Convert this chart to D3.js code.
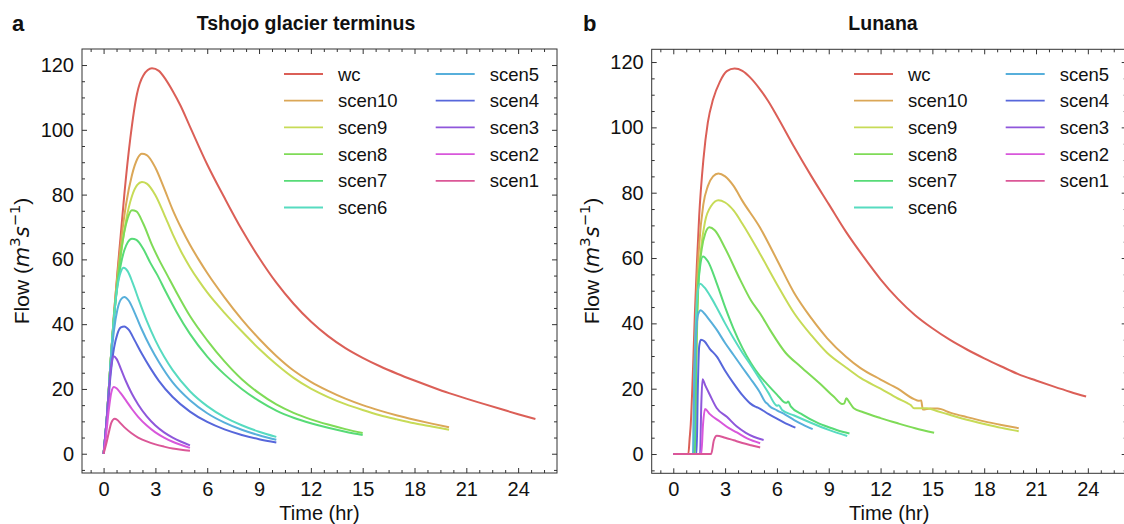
<!DOCTYPE html>
<html>
<head>
<meta charset="utf-8">
<script src="https://cdn.jsdelivr.net/npm/d3@7"></script>
<style>
  body { margin: 0; background: #fff; }
  svg text { font-family: "Liberation Sans", Arial, Helvetica, sans-serif; fill: #111; }
</style>
</head>
<body>
<svg id="chart" width="1124" height="524"></svg>
<script>
// series order, legend order and colours (seaborn hls-like palette)
const seriesNames = ['wc', 'scen10', 'scen9', 'scen8', 'scen7', 'scen6', 'scen5', 'scen4', 'scen3', 'scen2', 'scen1'];
const seriesColors = ['#db5f57', '#dba757', '#c7db57', '#7fdb57', '#57db77', '#57dbc0', '#57afdb', '#5767db', '#8f57db', '#d857db', '#db5797'];

const xTicks = [0, 3, 6, 9, 12, 15, 18, 21, 24];
const yTicks = [0, 20, 40, 60, 80, 100, 120];

// panel a: Tshojo glacier terminus, [time hr, flow m3/s]
const tsWc = [[0,0],[0.2,12],[0.4,28],[0.6,43],[0.8,56],[1.0,68],[1.2,80],[1.55,97.5],[1.93,111],[2.3,116.8],[2.8,119],[3.2,118.2],[3.6,115.5],[4.0,112],[4.45,107.5],[5,101],[6,89.3],[7,79],[8,69.2],[9,60.5],[10,52.8],[11,46.3],[12,40.8],[13,36.3],[14,32.6],[15,29.6],[16,27],[17,24.7],[18,22.6],[19,20.6],[20,18.7],[21,17],[22,15.4],[23,13.8],[24,12.2],[25,10.7]];
const tsScen10 = [[0,0],[0.2,12],[0.4,28],[0.6,43],[0.8,55],[1.0,65],[1.3,77],[1.64,86],[1.95,91],[2.22,92.6],[2.5,92.2],[3,88.3],[3.5,82],[4,75.3],[4.5,69.6],[5,64.5],[5.5,60],[6,55.8],[7,48.3],[8,41.5],[9,35.5],[10,30.2],[11,25.7],[12,22.2],[13,19.4],[14,17],[15,15],[16,13.3],[17,11.8],[18,10.5],[19,9.3],[20,8.2]];
const tsScen9 = [[0,0],[0.2,12],[0.4,28],[0.6,42],[0.8,53],[1.0,61.5],[1.3,72],[1.64,79.5],[1.95,83],[2.22,83.9],[2.5,83.4],[3,79.8],[3.5,74],[4,67.8],[4.5,62.3],[5,57.6],[5.5,53.5],[6,49.8],[7,43.5],[8,37.8],[9,32.4],[10,27.6],[11,23.4],[12,20.1],[13,17.5],[14,15.3],[15,13.5],[16,11.9],[17,10.6],[18,9.4],[19,8.4],[20,7.4]];
const tsScen8 = [[0,0],[0.2,12],[0.4,28],[0.6,42],[0.8,53],[1.0,62],[1.2,68.5],[1.4,72.8],[1.64,75.2],[1.9,74.8],[2.3,71],[2.8,64.5],[3.2,60],[3.67,55.3],[4.2,50],[5,42.5],[6,35],[7,28.5],[8,23],[9,18.7],[10,15.2],[11,12.6],[12,10.6],[13,9],[14,7.6],[15,6.4]];
const tsScen7 = [[0,0],[0.2,12],[0.4,28],[0.6,42],[0.8,52],[1.0,58.5],[1.2,62.8],[1.4,65.3],[1.64,66.4],[1.9,66],[2.3,63.2],[2.7,59],[3.1,55.3],[3.6,50],[4.2,44],[5,37],[6,30],[7,24.5],[8,20],[9,16.3],[10,13.3],[11,11.1],[12,9.4],[13,8],[14,6.8],[15,5.8]];
const tsScen6 = [[0,0],[0.2,12],[0.4,28],[0.6,42],[0.8,51.5],[1.0,56.2],[1.16,57.4],[1.4,56.3],[1.7,52.5],[2.03,47.6],[2.5,41],[3,35],[3.5,30],[4,25.8],[5,19.3],[6,14.7],[7,11.3],[8,8.8],[9,6.8],[10,5.2]];
const tsScen5 = [[0,0],[0.2,12],[0.4,27],[0.6,38],[0.8,44.5],[1.0,47.6],[1.2,48.4],[1.45,47.3],[1.8,43.5],[2.2,38.5],[2.7,33],[3.2,28.3],[4,22],[5,16.5],[6,12.5],[7,9.6],[8,7.4],[9,5.7],[10,4.3]];
const tsScen4 = [[0,0],[0.2,11],[0.4,24],[0.6,32.5],[0.8,37],[1.0,39],[1.2,39.3],[1.45,38.3],[1.8,35],[2.2,31],[2.7,26.5],[3.2,22.5],[4,17.5],[5,13],[6,9.8],[7,7.5],[8,5.8],[9,4.5],[10,3.5]];
const tsScen3 = [[0,0],[0.15,9],[0.3,19.5],[0.45,27.5],[0.58,30.1],[0.75,29.3],[1,26.2],[1.3,22.3],[1.64,18.5],[2,15.2],[2.5,11.5],[3,8.7],[3.5,6.6],[4,5],[4.5,3.7],[5,2.6]];
const tsScen2 = [[0,0],[0.15,6],[0.3,13.5],[0.45,19],[0.6,20.6],[0.75,20.2],[1,18.6],[1.3,16.4],[1.64,13.8],[2,11.4],[2.5,8.7],[3,6.6],[3.5,5],[4,3.7],[4.5,2.7],[5,1.8]];
const tsScen1 = [[0,0],[0.15,3],[0.3,6.5],[0.45,9.6],[0.64,10.8],[0.8,10.4],[1,9.3],[1.26,7.9],[1.6,6.4],[2,5],[2.5,3.8],[3,2.9],[3.5,2.2],[4,1.6],[4.5,1.2],[5,0.9]];

// panel b: Lunana
const luWc = [[0,0],[0.87,0],[0.95,5],[1.01,9],[1.1,20],[1.16,28.8],[1.25,43],[1.36,57.5],[1.5,73],[1.74,90],[2.0,101.5],[2.3,108.5],[2.7,114],[3.1,117.2],[3.55,118],[4,117.3],[4.5,115],[5,111.8],[5.5,108],[6,103.5],[7,94],[8,85],[9,76.5],[10,68],[11,60.5],[12,53.5],[13,47.5],[14,42.5],[15,38.5],[16,35],[17,32],[18,29.3],[19,26.8],[20,24.4],[21,22.5],[22,20.7],[23,19],[23.9,17.6]];
const luScen10 = [[0,0],[1.2,0],[1.25,18],[1.3,35],[1.36,50],[1.5,64],[1.74,76.4],[2.0,82],[2.3,85],[2.61,85.9],[3,85],[3.5,82],[4,77.5],[5,69.5],[6,59.5],[7,49.3],[8,41.5],[8.9,35.5],[10,29.8],[10.84,26.3],[12,22.8],[13,20],[13.94,16.8],[14.2,16.3],[14.35,16.4],[14.45,13.6],[14.9,13.9],[15.3,13.9],[16.07,12.6],[17,11.3],[18,10],[19,8.9],[20,7.9]];
const luScen9 = [[0,0],[1.25,0],[1.3,18],[1.36,35],[1.45,52],[1.6,62.5],[1.84,71.2],[2.2,76],[2.61,77.7],[3,77],[3.5,74.5],[4,70.5],[5,61.5],[6,52],[7,43.1],[8,36.3],[8.9,31],[10,26.5],[10.84,23.3],[12,20],[13,17],[13.5,15.7],[13.74,15],[13.94,14],[14.7,14],[15.3,13.1],[16,12],[17,10.5],[18,9.2],[19,8],[20,7]];
const luScen8 = [[0,0],[1.25,0],[1.3,20],[1.36,40],[1.45,52],[1.65,62.9],[1.85,67.5],[2.09,69.4],[2.4,68.5],[3,63],[3.87,53.4],[4.5,47],[5.03,43],[5.6,38],[6.5,31],[7.36,26.8],[8.5,21.5],[9.3,17.5],[9.78,15.3],[9.9,15.5],[10.02,17.1],[10.2,15.8],[10.45,14],[11,12.8],[12,11],[13,9.4],[14,7.9],[15.1,6.5]];
const luScen7 = [[0,0],[1.25,0],[1.3,25],[1.38,45],[1.5,55],[1.72,60.5],[2.0,59],[2.5,52.5],[3,45],[3.48,38.5],[4,32.5],[4.5,27.8],[5,24],[5.42,21.5],[6,18.2],[6.45,15.8],[6.58,15.7],[6.65,16.1],[6.8,14.6],[7.5,12],[8.33,9.6],[9,8.2],[9.5,7.3],[10.2,6.3]];
const luScen6 = [[0,0],[1.15,0],[1.2,20],[1.3,40],[1.42,50],[1.55,52.1],[1.8,51],[2.2,47.8],[2.52,44.8],[3,40],[3.48,35.5],[4,31],[4.45,27.5],[5,23],[5.5,18.8],[5.9,15.2],[6.0,14.8],[6.1,14.9],[6.3,13.5],[7,11.8],[8,9.5],[9,7.4],[10.07,5.5]];
const luScen5 = [[0,0],[1.15,0],[1.2,18],[1.3,35],[1.45,43],[1.59,44],[1.8,43],[2.1,41],[2.52,38],[3,34],[3.48,30.4],[4,26.5],[4.45,23.2],[5,19],[5.35,15.8],[5.45,15.4],[5.55,14.8],[6,13.4],[6.5,12],[7,10.4],[7.5,9],[8.07,7.6]];
const luScen4 = [[0,0],[1.35,0],[1.42,20],[1.5,33],[1.6,35],[1.8,34.5],[2.1,32.3],[2.52,29.8],[3,25.5],[3.48,21.7],[4,18],[4.45,15.5],[4.75,14.5],[4.9,14.2],[5.5,12.3],[6,10.8],[6.5,9.4],[7.07,8.1]];
const luScen3 = [[0,0],[1.55,0],[1.62,15],[1.69,22.9],[1.85,21],[2.1,18.3],[2.52,14],[3.1,11.4],[3.68,8.4],[4.2,6.5],[4.65,5.3],[5.23,4.3]];
const luScen2 = [[0,0],[1.62,0],[1.72,9],[1.84,13.8],[2.1,12.3],[2.71,9.9],[3.2,8],[3.68,6.6],[4.3,4.7],[5.03,3.3]];
const luScen1 = [[0,0],[2.19,0],[2.35,4.2],[2.52,5.6],[3,5],[3.5,4.2],[4,3.4],[4.5,2.7],[5.03,2.0]];

const tshojoSeries = [tsWc, tsScen10, tsScen9, tsScen8, tsScen7, tsScen6, tsScen5, tsScen4, tsScen3, tsScen2, tsScen1];
const lunanaSeries = [luWc, luScen10, luScen9, luScen8, luScen7, luScen6, luScen5, luScen4, luScen3, luScen2, luScen1];

const svg = d3.select('#chart');

function drawPanel(p) {
  const x = d3.scaleLinear().domain([-1.25, 26.25]).range([p.left, p.right]);
  const y = d3.scaleLinear().domain(p.yDomain).range([p.bottom, p.top]);
  const g = svg.append('g');

  // clip so curves never leave the frame
  const clipId = 'clip-' + p.letter;
  svg.append('clipPath').attr('id', clipId)
    .append('rect')
    .attr('x', p.left).attr('y', p.top)
    .attr('width', p.right - p.left).attr('height', p.bottom - p.top);

  const xMinor = d3.range(-0.75, 26.25, 0.75).filter(v => Math.abs(v / 3 - Math.round(v / 3)) > 1e-6);
  const yMinor = d3.range(-5, p.yDomain[1], 5).filter(v => v % 20 !== 0);

  const styleAxis = sel => {
    sel.select('.domain').remove();
    sel.selectAll('line').attr('stroke', '#333').attr('stroke-width', 1);
    sel.selectAll('text').style('font-size', '20px').attr('fill', '#111');
  };

  // major ticks with labels (inward)
  g.append('g').attr('transform', `translate(0,${p.bottom})`)
    .call(d3.axisBottom(x).tickValues(xTicks).tickSize(-5).tickPadding(9))
    .call(styleAxis);
  g.append('g').attr('transform', `translate(${p.left},0)`)
    .call(d3.axisLeft(y).tickValues(yTicks).tickSize(-5).tickPadding(8))
    .call(styleAxis);
  // mirrored ticks on top and right
  g.append('g').attr('transform', `translate(0,${p.top})`)
    .call(d3.axisTop(x).tickValues(xTicks).tickSize(-5).tickFormat(''))
    .call(styleAxis);
  g.append('g').attr('transform', `translate(${p.right},0)`)
    .call(d3.axisRight(y).tickValues(yTicks).tickSize(-5).tickFormat(''))
    .call(styleAxis);
  // minor ticks
  g.append('g').attr('transform', `translate(0,${p.bottom})`)
    .call(d3.axisBottom(x).tickValues(xMinor).tickSize(-3).tickFormat('')).call(styleAxis);
  g.append('g').attr('transform', `translate(0,${p.top})`)
    .call(d3.axisTop(x).tickValues(xMinor).tickSize(-3).tickFormat('')).call(styleAxis);
  g.append('g').attr('transform', `translate(${p.left},0)`)
    .call(d3.axisLeft(y).tickValues(yMinor).tickSize(-3).tickFormat('')).call(styleAxis);
  g.append('g').attr('transform', `translate(${p.right},0)`)
    .call(d3.axisRight(y).tickValues(yMinor).tickSize(-3).tickFormat('')).call(styleAxis);

  // curves
  const line = d3.line().x(d => x(d[0])).y(d => y(d[1])).curve(d3.curveMonotoneX);
  g.append('g').attr('clip-path', `url(#${clipId})`)
    .selectAll('path')
    .data(p.series)
    .join('path')
    .attr('d', line)
    .attr('fill', 'none')
    .attr('stroke', (d, i) => seriesColors[i])
    .attr('stroke-width', 2)
    .attr('stroke-linejoin', 'round');

  // frame
  g.append('rect')
    .attr('x', p.left).attr('y', p.top)
    .attr('width', p.right - p.left).attr('height', p.bottom - p.top)
    .attr('fill', 'none').attr('stroke', '#333').attr('stroke-width', 1);

  // legend, two columns
  const leg = g.append('g');
  seriesNames.forEach((name, i) => {
    const col = i < 6 ? 0 : 1;
    const row = i < 6 ? i : i - 6;
    const lx = p.legendX + col * 151.7;
    const ly = 74 + row * 26.7;
    leg.append('line')
      .attr('x1', lx).attr('x2', lx + 39)
      .attr('y1', ly).attr('y2', ly)
      .attr('stroke', seriesColors[i]).attr('stroke-width', 1.8);
    leg.append('text')
      .attr('x', lx + 54).attr('y', ly + 6.5)
      .style('font-size', '18.5px')
      .text(name);
  });

  // titles and labels
  g.append('text')
    .attr('x', p.titleX).attr('y', 30)
    .attr('text-anchor', 'middle')
    .style('font-size', '19.5px').style('font-weight', 'bold')
    .text(p.title);
  g.append('text')
    .attr('x', p.letterX).attr('y', 31)
    .style('font-size', '22px').style('font-weight', 'bold')
    .text(p.letter);
  g.append('text')
    .attr('x', (p.left + p.right) / 2).attr('y', 520)
    .attr('text-anchor', 'middle')
    .style('font-size', '20px')
    .text('Time (hr)');

  // y label with mathtext-like units
  const yl = g.append('text')
    .attr('transform', `translate(${p.ylabelX},261) rotate(-90)`)
    .attr('text-anchor', 'middle')
    .style('font-size', '21px');
  const math = 'font-family: "DejaVu Sans", sans-serif';
  yl.append('tspan').text('Flow (');
  yl.append('tspan').attr('style', math).style('font-style', 'italic').text('m');
  yl.append('tspan').attr('style', math).attr('dy', -9).style('font-size', '14.7px').text('3');
  yl.append('tspan').attr('style', math).attr('dy', 9).style('font-style', 'italic').text('s');
  yl.append('tspan').attr('style', math).attr('dy', -9).style('font-size', '14.7px').text('\u22121');
  yl.append('tspan').attr('dy', 9).text(')');
}

drawPanel({
  letter: 'a', letterX: 12, title: 'Tshojo glacier terminus', titleX: 306,
  left: 82, right: 557, top: 49, bottom: 473, yDomain: [-5.95, 124.95],
  series: tshojoSeries, legendX: 284, ylabelX: 29
});
drawPanel({
  letter: 'b', letterX: 583, title: 'Lunana', titleX: 883,
  left: 651.7, right: 1126.7, top: 49.3, bottom: 473.3, yDomain: [-5.9, 123.9],
  series: lunanaSeries, legendX: 854, ylabelX: 599
});
</script>
</body>
</html>
